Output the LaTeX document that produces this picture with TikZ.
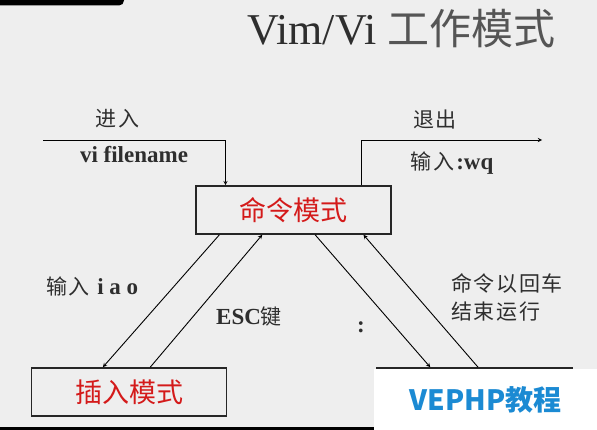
\documentclass[tikz,border=0pt]{standalone}
\usepackage{fontspec}
\setmainfont{Liberation Serif}
\newfontfamily\cjk{Noto Sans CJK SC}
\newfontfamily\cjklbl[LetterSpace=8]{Noto Sans CJK SC}
\usetikzlibrary{calc}
\usetikzlibrary{arrows}
\definecolor{bg}{HTML}{EEEEEE}
\definecolor{modered}{HTML}{D41A1A}
\definecolor{inkgray}{HTML}{2E2E2E}
\definecolor{titlegray}{HTML}{555555}
\definecolor{markblue}{HTML}{1B8AD3}
\newcommand{\lblfont}{\cjklbl\fontsize{21}{28.5}\selectfont}

\begin{document}
\begin{tikzpicture}[x=1pt,y=-1pt,
  mode/.style={draw=black!85,line width=1.6pt,minimum width=195pt,minimum height=48pt,inner sep=0pt,text=modered,font=\cjk\fontsize{27}{27}\selectfont},
  arr/.style={-stealth,line width=0.9pt,black},
  lbl/.style={text=inkgray,inner sep=0pt,font=\fontsize{23}{28}\selectfont}]
\useasboundingbox (0,0) rectangle (597,430);
\fill[bg] (0,0) rectangle (597,430);
\fill[black,rounded corners=5pt] (-10,-10) rectangle (124,5.5);
% title
\node[anchor=base west,inner sep=0pt,text=inkgray,font=\fontsize{44}{44}\selectfont] (title) at (247,45) {Vim/Vi {\cjk\fontsize{42}{42}\selectfont\color{titlegray}工作模式}};
% the three modes
\node[mode] (cmd) at (293.5,210) {命令模式};
\node[mode] (ins) at (129,392) {插入模式};
\node[mode] (last) at (474.5,392) {};
% enter and leave
\coordinate (enter) at (43,140);
\coordinate (leave) at (542,140);
\draw[arr] (enter) -| ($(cmd.north west)!.154!(cmd.north east)$);
\draw[arr] ($(cmd.north west)!.846!(cmd.north east)$) |- (leave);
\node[lbl] (entertxt) at (117.5,118.5) {\lblfont 进入};
\node[lbl,anchor=base] (vitxt) at (134,163) {\textbf{vi filename}};
\node[lbl] (leavetxt) at (435,119.5) {\lblfont 退出};
\node[lbl,anchor=base west] (wqtxt) at (410.7,170) {{\lblfont 输入}\textbf{:wq}};
% switching between modes
\draw[arr] ($(cmd.south west)!.123!(cmd.south east)$) -- ($(ins.north west)!.367!(ins.north east)$);
\draw[arr] ($(ins.north west)!.608!(ins.north east)$) -- ($(cmd.south west)!.341!(cmd.south east)$);
\draw[arr] ($(cmd.south west)!.61!(cmd.south east)$) -- ($(last.north west)!.275!(last.north east)$);
\draw[arr] ($(last.north west)!.518!(last.north east)$) -- ($(cmd.south west)!.856!(cmd.south east)$);
\node[lbl,anchor=base west] (iaotxt) at (46,294.5) {{\lblfont 输入} \textbf{i a o}};
\node[lbl,anchor=base west] (esctxt) at (216,325) {\textbf{ESC}{\lblfont 键}};
\node[lbl] (colontxt) at (361,327) {\textbf{:}};
\node[lbl,anchor=west,align=left] (runtxt) at (451,297.5) {\lblfont 命令以回车\\\lblfont 结束运行};
% bottom bar and mark
\fill[black] (0,426.5) rectangle (597,430);
\fill[white] (374,369.3) rectangle (597,430);
\node[anchor=base west,inner sep=0pt,text=markblue,font=\cjk\bfseries\fontsize{28}{28}\selectfont] (mark) at (409.5,410) {VEPHP教程};
\end{tikzpicture}
\end{document}
